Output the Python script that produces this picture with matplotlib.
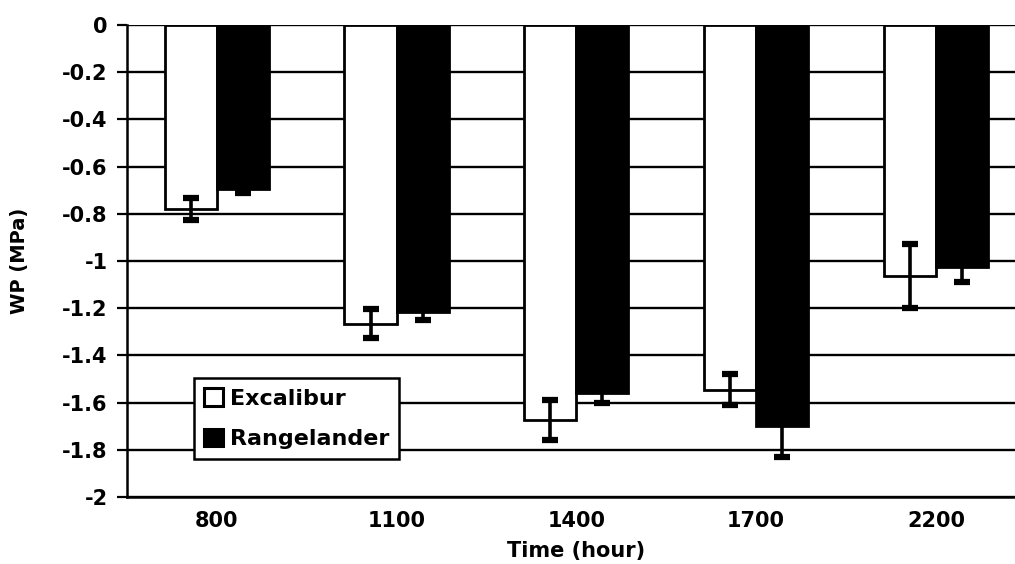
import matplotlib
matplotlib.use("Agg")
import matplotlib.pyplot as plt
import numpy as np

# water potential at each sampling time (MPa), mean and error
times = ["800", "1100", "1400", "1700", "2200"]
excalibur = [-0.78, -1.265, -1.675, -1.545, -1.065]
excalibur_err = [0.045, 0.06, 0.085, 0.065, 0.135]
rangelander = [-0.695, -1.215, -1.56, -1.70, -1.025]
rangelander_err = [0.015, 0.035, 0.04, 0.13, 0.065]

plt.rcParams["font.family"] = ["DejaVu Sans"]
plt.rcParams["font.weight"] = "bold"
plt.rcParams["axes.labelweight"] = "bold"

fig = plt.figure(figsize=(10.15, 5.64), dpi=100)
ax = fig.add_axes([0.1251, 0.1188, 0.8855, 0.8369])

x = np.arange(len(times))
w = 0.29

ekw = dict(ecolor="black", elinewidth=2.6, capsize=5.5, capthick=4.5)
ax.bar(x - w / 2, excalibur, w, color="white", edgecolor="black",
       linewidth=2, label="Excalibur", zorder=2)
ax.bar(x + w / 2, rangelander, w, color="black", edgecolor="black",
       linewidth=2, label="Rangelander", zorder=2)
ax.errorbar(x - w / 2, excalibur, yerr=excalibur_err, fmt="none", zorder=3, **ekw)
ax.errorbar(x + w / 2, rangelander, yerr=rangelander_err, fmt="none", zorder=3, **ekw)

ax.set_xlim(-0.5, 4.5)
ax.set_ylim(-2, 0)
ax.set_yticks(np.arange(-2, 0.01, 0.2))
ax.set_yticklabels(["-2", "-1.8", "-1.6", "-1.4", "-1.2", "-1",
                    "-0.8", "-0.6", "-0.4", "-0.2", "0"])
ax.set_xticks(x)
ax.set_xticklabels(times)
ax.yaxis.grid(True, color="black", linewidth=1.7, zorder=0)
ax.set_axisbelow(True)

ax.tick_params(axis="y", length=7, width=1.6, pad=7, labelsize=15)
ax.tick_params(axis="x", length=0, pad=10, labelsize=15)
for s in ["left", "bottom"]:
    ax.spines[s].set_linewidth(1.8)
ax.spines["top"].set_visible(False)
ax.spines["right"].set_visible(False)

ax.set_ylabel("WP (MPa)", fontsize=14, labelpad=24)
ax.set_xlabel("Time (hour)", fontsize=15, labelpad=7)

leg = ax.legend(loc="upper left", bbox_to_anchor=(0.075, 0.252), fontsize=16,
                frameon=True, fancybox=False, framealpha=1,
                handlelength=0.85, handleheight=0.85,
                handletextpad=0.3, borderpad=0.45, labelspacing=0.9,
                borderaxespad=0)
leg.get_frame().set_edgecolor("black")
leg.get_frame().set_linewidth(1.8)
for h in leg.legend_handles:
    h.set_linewidth(2.2)

fig.savefig("out.png", dpi=100)
